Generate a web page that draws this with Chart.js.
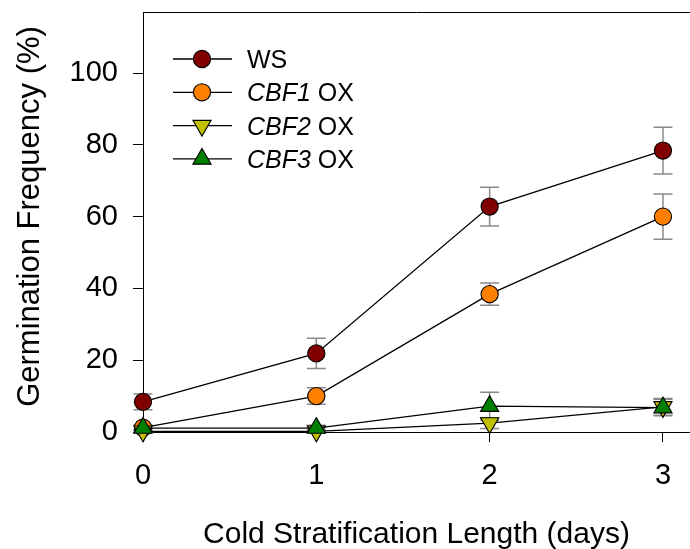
<!DOCTYPE html>
<html>
<head>
<meta charset="utf-8">
<script src="https://cdn.jsdelivr.net/npm/chart.js@4/dist/chart.umd.min.js"></script>
<style>
  html, body { margin: 0; padding: 0; background: #fff; }
  #c { display: block; }
</style>
</head>
<body>
<canvas id="c" width="690" height="549"></canvas>
<script>
// ---- data ----
const days = [0, 1, 2, 3];
const xTicks = [0, 1, 2, 3];
const yTicks = [0, 20, 40, 60, 80, 100];

const seriesNames = ['WS', 'CBF1', 'CBF2', 'CBF3'];
const wsMean   = [8.4, 21.9, 62.8, 78.4];
const wsErr    = [2.2, 4.2, 5.4, 6.5];
const cbf1Mean = [1.2, 10.0, 38.4, 60.0];
const cbf1Err  = [0.8, 2.3, 3.1, 6.3];
const cbf2Mean = [0.2, 0.2, 2.5, 7.0];
const cbf2Err  = [0.3, 0.5, 1.5, 2.3];
const cbf3Mean = [1.1, 1.1, 7.2, 6.8];
const cbf3Err  = [0.5, 0.8, 3.9, 2.3];

const xTitle = 'Cold Stratification Length (days)';
const yTitle = 'Germination Frequency (%)';

const FONT = "'Liberation Sans', Arial, sans-serif";

function pts(means) { return days.map((d, i) => ({ x: d, y: means[i] })); }

const styles = [
  { fill: '#800000', shape: 'circle',   rot: 0,   r: 8.6 },
  { fill: '#FF8000', shape: 'circle',   rot: 0,   r: 8.6 },
  { fill: '#C0C000', shape: 'triangle', rot: 180, r: 10.5 },
  { fill: '#008000', shape: 'triangle', rot: 0,   r: 10.5 }
];
const means = [wsMean, cbf1Mean, cbf2Mean, cbf3Mean];
const errs = [wsErr, cbf1Err, cbf2Err, cbf3Err];

const datasets = means.map((m, i) => ({
  label: seriesNames[i],
  data: pts(m),
  errors: errs[i],
  borderColor: '#000',
  borderWidth: 1.3,
  pointStyle: styles[i].shape,
  pointRotation: styles[i].rot,
  pointRadius: styles[i].r,
  pointBackgroundColor: styles[i].fill,
  pointBorderColor: '#000',
  pointBorderWidth: 1.1,
  tension: 0,
  fill: false,
  clip: false,
  order: 3 - i
}));

function drawMarker(ctx, shape, x, y, r, rot, fill) {
  ctx.save();
  ctx.fillStyle = fill;
  ctx.strokeStyle = '#000';
  ctx.lineWidth = 1.1;
  ctx.beginPath();
  if (shape === 'circle') {
    ctx.arc(x, y, r, 0, Math.PI * 2);
  } else {
    let a = rot * Math.PI / 180;
    for (let k = 0; k < 3; k++) {
      const px = x + Math.sin(a) * r, py = y - Math.cos(a) * r;
      if (k === 0) ctx.moveTo(px, py); else ctx.lineTo(px, py);
      a += 2 * Math.PI / 3;
    }
    ctx.closePath();
  }
  ctx.fill();
  ctx.stroke();
  ctx.restore();
}

const errorBars = {
  id: 'errorBars',
  beforeDatasetsDraw(chart) {
    const ctx = chart.ctx, xs = chart.scales.x, ys = chart.scales.y;
    ctx.save();
    ctx.strokeStyle = '#8a8a8a';
    ctx.lineWidth = 1.5;
    chart.data.datasets.forEach(ds => {
      ds.data.forEach((p, i) => {
        const e = ds.errors[i];
        const px = xs.getPixelForValue(p.x);
        const t = ys.getPixelForValue(p.y + e);
        const b = ys.getPixelForValue(p.y - e);
        ctx.beginPath();
        ctx.moveTo(px, t); ctx.lineTo(px, b);
        ctx.moveTo(px - 9.5, t); ctx.lineTo(px + 9.5, t);
        ctx.moveTo(px - 9.5, b); ctx.lineTo(px + 9.5, b);
        ctx.stroke();
      });
    });
    ctx.restore();
  }
};

const decorations = {
  id: 'decorations',
  afterDraw(chart) {
    const ctx = chart.ctx, ca = chart.chartArea;
    ctx.save();
    // top frame line
    ctx.strokeStyle = '#000';
    ctx.lineWidth = 1;
    ctx.beginPath();
    ctx.moveTo(ca.left, ca.top + 0.5);
    ctx.lineTo(ca.right, ca.top + 0.5);
    ctx.stroke();

    // axis titles
    ctx.fillStyle = '#000';
    ctx.font = '30px ' + FONT;
    ctx.textAlign = 'center';
    ctx.textBaseline = 'alphabetic';
    ctx.fillText(xTitle, (ca.left + ca.right) / 2, 543);

    ctx.save();
    ctx.translate(39, 216.5);
    ctx.rotate(-Math.PI / 2);
    ctx.font = '31px ' + FONT;
    ctx.fillText(yTitle, 0, 0);
    ctx.restore();

    // legend
    const rows = [
      { parts: [['WS', false]] },
      { parts: [['CBF1', true], [' OX', false]] },
      { parts: [['CBF2', true], [' OX', false]] },
      { parts: [['CBF3', true], [' OX', false]] }
    ];
    const y0 = 59, dy = 33.3;
    rows.forEach((row, i) => {
      const y = y0 + dy * i;
      ctx.strokeStyle = '#000';
      ctx.lineWidth = 1.3;
      ctx.beginPath();
      ctx.moveTo(173, y); ctx.lineTo(232, y);
      ctx.stroke();
      const s = styles[i];
      drawMarker(ctx, s.shape, 202, y, s.r, s.rot, s.fill);
      let tx = 247;
      ctx.textAlign = 'left';
      ctx.textBaseline = 'alphabetic';
      ctx.fillStyle = '#000';
      row.parts.forEach(([txt, it]) => {
        ctx.font = (it ? 'italic ' : '') + '25px ' + FONT;
        ctx.fillText(txt, tx, y + 9);
        tx += ctx.measureText(txt).width;
      });
    });
    ctx.restore();
  }
};

new Chart(document.getElementById('c'), {
  type: 'line',
  data: { datasets },
  options: {
    responsive: false,
    animation: false,
    devicePixelRatio: 1,
    layout: { autoPadding: false, padding: { top: 12, right: 0, bottom: 0, left: 0 } },
    plugins: { legend: { display: false }, tooltip: { enabled: false }, title: { display: false } },
    scales: {
      x: {
        type: 'linear',
        min: 0,
        max: 3.156,
        afterBuildTicks: s => { s.ticks = xTicks.map(v => ({ value: v })); },
        afterFit: s => { s.height = 117; s.paddingLeft = 0; s.paddingRight = 0; },
        grid: { drawOnChartArea: false, drawTicks: true, tickLength: 10, tickColor: '#000', tickWidth: 1 },
        border: { display: true, color: '#000', width: 1 },
        ticks: { color: '#000', font: { family: FONT, size: 29 }, padding: 17, maxRotation: 0, autoSkip: false }
      },
      y: {
        type: 'linear',
        min: 0,
        max: 117,
        afterBuildTicks: s => { s.ticks = yTicks.map(v => ({ value: v })); },
        afterFit: s => { s.width = 143; s.paddingTop = 0; s.paddingBottom = 0; },
        grid: { drawOnChartArea: false, drawTicks: true, tickLength: 10, tickColor: '#000', tickWidth: 1 },
        border: { display: true, color: '#000', width: 1 },
        ticks: { color: '#000', font: { family: FONT, size: 29 }, padding: 15, autoSkip: false }
      }
    }
  },
  plugins: [errorBars, decorations]
});
</script>
</body>
</html>
